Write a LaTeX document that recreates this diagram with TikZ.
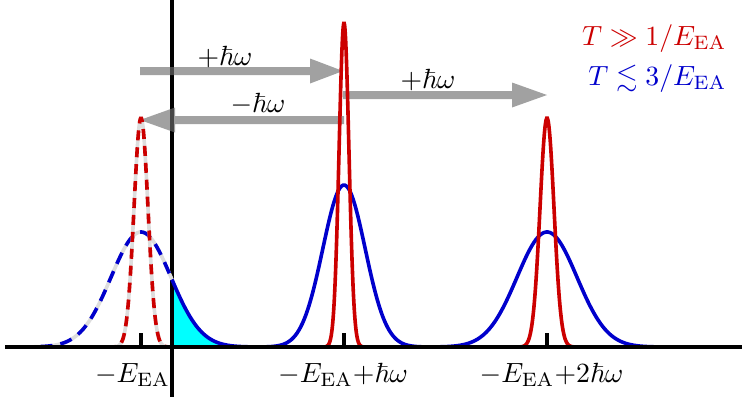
\documentclass[tikz,border=0pt]{standalone}
\usepackage{amssymb}
\usetikzlibrary{calc}
\definecolor{cred}{RGB}{204,0,0}
\definecolor{cblue}{RGB}{0,0,204}
\definecolor{ccyan}{RGB}{0,255,255}
\definecolor{gapgray}{RGB}{221,221,221}
\definecolor{arrowgray}{RGB}{110,110,110}
\newcommand\fatarrow[3]{\fill[arrowfill] ($(#1)+(0,4)$) -- ($(#2)+(#3,4)$) -- ($(#2)+(#3,12.5)$) -- (#2) -- ($(#2)+(#3,-12.5)$) -- ($(#2)+(#3,-4)$) -- ($(#1)+(0,-4)$) -- cycle;}
\begin{document}
\begin{tikzpicture}[x=0.36pt,y=0.36pt,
  declare function={g(\t)=exp(-0.5*\t*\t);},
  curve/.style={line width=1.3pt},
  axisline/.style={line width=1.2pt,black},
  arrowfill/.style={fill=arrowgray,fill opacity=0.65},
  lbl/.style={inner sep=0pt,anchor=base}]
\useasboundingbox (0,0) rectangle (748,404);
% cyan tail
\fill[ccyan] (172,57) -- plot[domain=172:290,samples=60,smooth] (\x,{57+115*g((\x-141)/30)}) -- (290,57) -- cycle;
% vertical axis
\coordinate (vtop) at (172,404);
\coordinate (vbot) at (172,7);
\draw[axisline] (vtop) -- (vbot);
% arrows
\coordinate (a1s) at (140,333); \coordinate (a1e) at (343,333);
\coordinate (a2s) at (343,309); \coordinate (a2e) at (547,309);
\coordinate (a3s) at (344,284); \coordinate (a3e) at (140,284);
\fatarrow{a1s}{a1e}{-33}
\fatarrow{a2s}{a2e}{-35}
\fatarrow{a3s}{a3e}{35}
\node[lbl] (l1) at (225,339) {$+\hbar\omega$};
\node[lbl] (l2) at (428,316) {$+\hbar\omega$};
\node[lbl] (l3) at (258,292) {$-\hbar\omega$};
% left (dashed) peaks
\draw[curve,gapgray] plot[domain=20:172,samples=80,smooth] (\x,{57+115*g((\x-141)/30)});
\draw[curve,cblue,dash pattern=on 4.4pt off 2.9pt] plot[domain=20:172,samples=80,smooth] (\x,{57+115*g((\x-141)/30)});
\draw[curve,gapgray] plot[domain=106:176,samples=90,smooth] (\x,{57+229*g((\x-141)/7)});
\draw[curve,cred,dash pattern=on 3.6pt off 2.5pt] plot[domain=106:176,samples=90,smooth] (\x,{57+229*g((\x-141)/7)});
\draw[curve,cblue] plot[domain=172:290,samples=60,smooth] (\x,{57+115*g((\x-141)/30)});
% centre peaks
\draw[curve,cblue] plot[domain=234:454,samples=120,smooth] (\x,{57+162*g((\x-344)/21.2)});
\draw[curve,cred] plot[domain=319:369,samples=100,smooth] (\x,{57+324*g((\x-344)/4.95)});
% right peaks
\draw[curve,cblue] plot[domain=397:697,samples=150,smooth] (\x,{57+115*g((\x-547)/30)});
\draw[curve,cred] plot[domain=512:582,samples=100,smooth] (\x,{57+229*g((\x-547)/7)});
% horizontal axis
\coordinate (hl) at (5,57);
\coordinate (hr) at (742,57);
\draw[axisline] (hl) -- (hr);
% ticks
\coordinate (t1) at (141,57); \coordinate (t2) at (344,57); \coordinate (t3) at (547,57);
\foreach \t in {t1,t2,t3} \draw[line width=1.1pt] (\t) -- ++(0,14);
% axis labels
\node[lbl] (x1) at (132.5,22) {$-E_{\mathrm{EA}}$};
\node[lbl] (x2) at (343,22) {$-E_{\mathrm{EA}}{+}\hbar\omega$};
\node[lbl] (x3) at (551.5,22) {$-E_{\mathrm{EA}}{+}2\hbar\omega$};
% legend
\node[inner sep=0pt,anchor=base east,text=cred] (leg1) at (727,359) {$T\gg 1/E_{\mathrm{EA}}$};
\node[inner sep=0pt,anchor=base east,text=cblue] (leg2) at (727,319) {$T\lesssim 3/E_{\mathrm{EA}}$};
\end{tikzpicture}
\end{document}
